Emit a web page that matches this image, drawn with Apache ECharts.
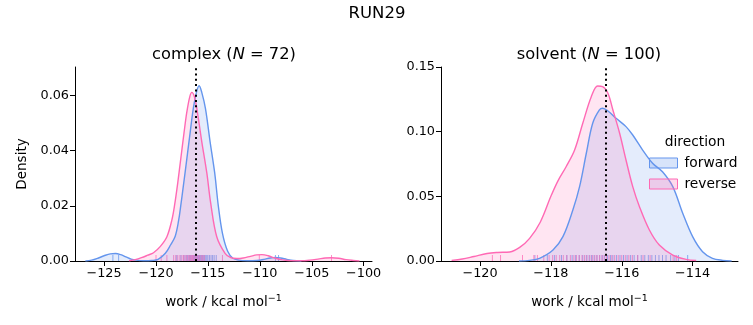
<!DOCTYPE html>
<html>
<head>
<meta charset="utf-8">
<script src="https://cdn.jsdelivr.net/npm/echarts@6/dist/echarts.min.js"></script>
<style>
html,body{margin:0;padding:0;background:#fff;}
#chart{width:753px;height:325px;}
</style>
</head>
<body>
<div id="chart"></div>
<script>
// ---- data ----
const suptitle = 'RUN29';
const legendTitle = 'direction';
const directions = ['forward', 'reverse'];

// complex panel KDE curves [work, density]
const complexForward = [
  [-126.8,0],[-126.2,0.0003],[-125.6,0.0010],[-125.0,0.0019],[-124.4,0.0026],[-123.9,0.0027],
  [-123.4,0.0023],[-122.9,0.0015],[-122.4,0.0007],[-121.9,0.0003],[-121.2,0.0001],[-120.4,0.0002],
  [-119.8,0.0006],[-119.1,0.0028],[-118.6,0.0058],[-118.15,0.0090],[-117.83,0.0145],[-117.6,0.0205],
  [-117.4,0.0262],[-117.15,0.0335],[-116.78,0.0445],[-116.4,0.0555],[-116.1,0.0612],[-115.85,0.0635],
  [-115.6,0.0612],[-115.24,0.0553],[-114.79,0.0432],[-114.35,0.0320],[-114.0,0.0200],[-113.6,0.0100],
  [-113.1,0.0035],[-112.6,0.0010],[-112.0,0.0003],[-111.2,0.0001],[-110.3,0.0002],[-109.6,0.0006],
  [-109.0,0.0011],[-108.5,0.0013],[-108.0,0.0011],[-107.4,0.0006],[-106.8,0.0002],[-106.0,0]
];
const complexReverse = [
  [-122.6,0.0001],[-122.0,0.0005],[-121.4,0.0012],[-120.8,0.0021],[-120.24,0.0030],[-119.6,0.0052],
  [-118.95,0.0088],[-118.47,0.0149],[-118.2,0.0205],[-117.9,0.0285],[-117.6,0.0375],[-117.3,0.0465],
  [-117.03,0.0540],[-116.75,0.0595],[-116.55,0.0611],[-116.3,0.0595],[-116.07,0.0553],[-115.59,0.0432],
  [-115.11,0.0320],[-114.73,0.0209],[-114.15,0.0088],[-113.35,0.0028],[-112.8,0.0012],[-112.2,0.0009],
  [-111.6,0.0011],[-110.9,0.0017],[-110.3,0.0022],[-109.8,0.0023],[-109.2,0.0019],[-108.5,0.0010],
  [-107.8,0.0004],[-107.0,0.0001],[-106.0,0.0001],[-105.2,0.0003],[-104.4,0.0007],[-103.7,0.0011],
  [-103.1,0.0012],[-102.4,0.0010],[-101.7,0.0005],[-101.0,0.0002],[-100.4,0]
];
// solvent panel KDE curves [work, density]
const solventForward = [
  [-118.9,0],[-118.6,0.0005],[-118.32,0.0021],[-117.94,0.0085],[-117.66,0.0188],[-117.38,0.0394],
  [-117.19,0.0575],[-117.0,0.0833],[-116.82,0.1065],[-116.63,0.1168],[-116.54,0.1181],[-116.39,0.1160],
  [-116.16,0.1104],[-115.88,0.1039],[-115.69,0.0974],[-115.41,0.0858],[-115.13,0.0756],[-114.85,0.0690],
  [-114.56,0.0575],[-114.28,0.0369],[-114.0,0.0188],[-113.72,0.0072],[-113.44,0.0021],[-113.15,0.0005],
  [-112.9,0]
];
const solventReverse = [
  [-120.8,0.0005],[-120.5,0.0015],[-120.17,0.0035],[-119.8,0.0058],[-119.5,0.0066],[-119.16,0.0070],
  [-118.88,0.0105],[-118.6,0.0175],[-118.3,0.0300],[-118.0,0.0500],[-117.8,0.0620],[-117.57,0.0729],
  [-117.33,0.0858],[-117.1,0.1065],[-116.86,0.1270],[-116.68,0.1353],[-116.54,0.1348],[-116.39,0.1297],
  [-116.25,0.1168],[-116.06,0.0988],[-115.88,0.0781],[-115.69,0.0575],[-115.5,0.0420],[-115.22,0.0240],
  [-114.94,0.0124],[-114.56,0.0046],[-114.19,0.0013],[-113.9,0.0004]
];

// rug samples (work values)
const complexForwardRug = [-124.15,-123.6,-118.0,-117.6,-117.3,-117.1,-116.95,-116.8,-116.7,-116.55,-116.4,-116.3,
  -116.2,-116.1,-116.0,-115.9,-115.8,-115.7,-115.6,-115.5,-115.4,-115.3,-115.2,-115.1,-115.0,-114.85,-114.7,
  -114.55,-114.4,-114.2,-108.5,-108.2];
const complexReverseRug = [-120.0,-119.5,-118.95,-118.3,-118.1,-117.9,-117.7,-117.5,-117.35,-117.2,-117.05,-116.9,
  -116.8,-116.7,-116.6,-116.5,-116.45,-116.35,-116.25,-116.15,-116.05,-115.95,-115.8,-115.65,-115.5,-115.35,
  -113.6,-110.05,-103.1];
const solventForwardRug = [-118.45,-118.1,-117.9,-117.7,-117.55,-117.4,-117.3,-117.2,-117.1,-117.0,-116.92,-116.85,
  -116.78,-116.7,-116.62,-116.55,-116.48,-116.4,-116.32,-116.25,-116.15,-116.05,-115.95,-115.85,-115.75,-115.65,
  -115.55,-115.45,-115.35,-115.25,-115.15,-115.05,-114.95,-114.85,-114.75,-114.62,-114.5,-114.4,-114.14];
const solventReverseRug = [-119.65,-119.42,-118.8,-118.48,-118.38,-118.2,-118.05,-117.95,-117.85,-117.75,-117.65,
  -117.55,-117.45,-117.35,-117.28,-117.2,-117.12,-117.05,-116.98,-116.9,-116.83,-116.76,-116.7,-116.63,-116.56,
  -116.5,-116.43,-116.36,-116.28,-116.2,-116.1,-116.0,-115.9,-115.8,-115.7,-115.55,-115.4,-115.2,-114.55,-114.45];

// vertical dotted reference lines
const complexMarker = -116.18;
const solventMarker = -116.44;

// axis ticks
const complexXTicks = [-125,-120,-115,-110,-105,-100];
const complexYTicks = [0,0.02,0.04,0.06];
const solventXTicks = [-120,-118,-116,-114];
const solventYTicks = [0,0.05,0.10,0.15];

// ---- chart ----
const FONT = 'DejaVu Sans';
const BLUE = '#6495ED', PINK = '#FF69B4';
const BLUE_FILL = 'rgba(100,149,237,0.25)', PINK_FILL = 'rgba(255,105,180,0.25)';
const minus = v => String(v).replace('-', '\u2212');

function xAxis(gridIndex, min, max, ticks) {
  return {
    type: 'value', gridIndex, min, max,
    name: 'work / kcal mol{sup|\u22121}',
    nameLocation: 'middle', nameGap: 33,
    nameTextStyle: { fontFamily: FONT, fontSize: 13.5, color: '#000', lineHeight: 16,
      rich: { sup: { fontFamily: FONT, fontSize: 9.5, color: '#000', verticalAlign: 'top', lineHeight: 16 } } },
    axisLine: { show: true, onZero: false, lineStyle: { color: '#000', width: 1 } },
    axisTick: { show: true, length: 5, customValues: ticks, lineStyle: { color: '#000', width: 1 } },
    axisLabel: { customValues: ticks, formatter: v => minus(v), fontFamily: FONT, fontSize: 12.8, color: '#000', margin: 6 },
    splitLine: { show: false }
  };
}
function yAxis(gridIndex, max, ticks, name) {
  return {
    type: 'value', gridIndex, min: 0, max,
    name: name || '', nameLocation: 'middle', nameGap: 46,
    nameTextStyle: { fontFamily: FONT, fontSize: 13.5, color: '#000' },
    axisLine: { show: true, lineStyle: { color: '#000', width: 1 } },
    axisTick: { show: true, length: 5, customValues: ticks, lineStyle: { color: '#000', width: 1 } },
    axisLabel: { customValues: ticks, formatter: v => v.toFixed(2), fontFamily: FONT, fontSize: 12.8, color: '#000', margin: 6 },
    splitLine: { show: false }
  };
}
function kde(name, data, idx, color, fill, marker) {
  const s = {
    name, type: 'line', xAxisIndex: idx, yAxisIndex: idx, data,
    smooth: 0.35, showSymbol: false, symbol: 'none',
    lineStyle: { color, width: 1.4 }, itemStyle: { color },
    areaStyle: { color: fill, origin: 'start' }, silent: true, animation: false
  };
  if (marker !== undefined) {
    s.markLine = { symbol: 'none', silent: true, animation: false, label: { show: false },
      lineStyle: { color: '#000', type: [2, 3.3], width: 2 }, data: [{ xAxis: marker }] };
  }
  return s;
}
function rug(name, values, idx, color) {
  return {
    name, type: 'custom', xAxisIndex: idx, yAxisIndex: idx, silent: true, animation: false,
    data: values.map(v => [v, 0]),
    encode: { x: 0, y: 1 },
    renderItem: (params, api) => {
      const p = api.coord([api.value(0), api.value(1)]);
      return { type: 'line', shape: { x1: p[0], y1: p[1], x2: p[0], y2: p[1] - 6 },
        style: { stroke: color, lineWidth: 1, opacity: 0.75 } };
    }
  };
}

const chart = echarts.init(document.getElementById('chart'), null, { renderer: 'canvas' });
chart.setOption({
  animation: false,
  backgroundColor: '#fff',
  title: [
    { text: suptitle, left: 377, top: 5, padding: 0, textAlign: 'center',
      textStyle: { fontFamily: FONT, fontSize: 16.5, fontWeight: 'normal', color: '#000' } },
    { text: 'complex ({i|N} = 72)', left: 224, top: 47, padding: 0, textAlign: 'center',
      textStyle: { fontFamily: FONT, fontSize: 16.3, fontWeight: 'normal', color: '#000',
        rich: { i: { fontFamily: FONT, fontSize: 16.3, fontStyle: 'italic', color: '#000' } } } },
    { text: 'solvent ({i|N} = 100)', left: 589, top: 47, padding: 0, textAlign: 'center',
      textStyle: { fontFamily: FONT, fontSize: 16.3, fontWeight: 'normal', color: '#000',
        rich: { i: { fontFamily: FONT, fontSize: 16.3, fontStyle: 'italic', color: '#000' } } } },
    { text: legendTitle, left: 695, top: 135, padding: 0, textAlign: 'center',
      textStyle: { fontFamily: FONT, fontSize: 13.8, fontWeight: 'normal', color: '#000' } }
  ],
  legend: {
    orient: 'vertical', left: 649, top: 156, padding: 0, itemWidth: 28, itemHeight: 10, itemGap: 7,
    icon: 'rect', selectedMode: false,
    textStyle: { fontFamily: FONT, fontSize: 13.8, color: '#000', padding: [0, 0, 0, 2] },
    data: [
      { name: directions[0], icon: 'rect', itemStyle: { color: BLUE_FILL, borderColor: BLUE, borderWidth: 1 } },
      { name: directions[1], icon: 'rect', itemStyle: { color: PINK_FILL, borderColor: PINK, borderWidth: 1 } }
    ]
  },
  grid: [
    { left: 75, top: 67, width: 297, height: 194 },
    { left: 441, top: 67, width: 297, height: 194 }
  ],
  xAxis: [ xAxis(0, -127.8, -99.2, complexXTicks), xAxis(1, -121.1, -112.72, solventXTicks) ],
  yAxis: [ yAxis(0, 0.0703, complexYTicks, 'Density'), yAxis(1, 0.150, solventYTicks) ],
  series: [
    kde(directions[0], complexForward, 0, BLUE, BLUE_FILL),
    kde(directions[1], complexReverse, 0, PINK, PINK_FILL, complexMarker),
    rug(directions[0], complexForwardRug, 0, BLUE),
    rug(directions[1], complexReverseRug, 0, PINK),
    kde(directions[0], solventForward, 1, BLUE, BLUE_FILL),
    kde(directions[1], solventReverse, 1, PINK, PINK_FILL, solventMarker),
    rug(directions[0], solventForwardRug, 1, BLUE),
    rug(directions[1], solventReverseRug, 1, PINK)
  ]
});
</script>
</body>
</html>
